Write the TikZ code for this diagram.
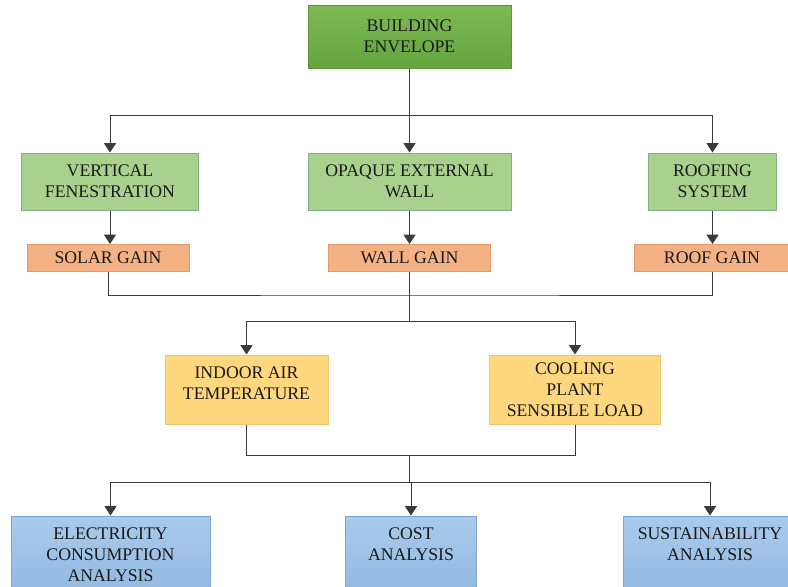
\documentclass[tikz,border=0pt]{standalone}
\usepackage{fontspec}
\setmainfont{Liberation Serif}
\usetikzlibrary{arrows.meta}

\definecolor{envtop}{HTML}{7DBA55}
\definecolor{envbot}{HTML}{66A43F}
\definecolor{envline}{HTML}{5E9539}
\definecolor{partfill}{HTML}{A9D18E}
\definecolor{partline}{HTML}{84AE87}
\definecolor{gainfill}{HTML}{F4B183}
\definecolor{gainline}{HTML}{E3976C}
\definecolor{effectfill}{HTML}{FFD77E}
\definecolor{effectline}{HTML}{F2C46A}
\definecolor{studytop}{HTML}{A9CAEB}
\definecolor{studybot}{HTML}{93B9E2}
\definecolor{studyline}{HTML}{7FA6D2}
\definecolor{wire}{HTML}{3A3A3A}

\begin{document}
\begin{tikzpicture}[x=0.75pt,y=-0.75pt,
        >={Triangle[width=9pt,length=7pt]},
        color=wire,line width=0.75pt,
        block/.style={align=center,inner sep=1pt,text=black!90,
            font=\fontsize{13.3}{15.75}\selectfont},
        envbox/.style={block,draw=envline,top color=envtop,bottom color=envbot},
        partbox/.style={block,draw=partline,fill=partfill,minimum height=42.75pt},
        gainbox/.style={block,draw=gainline,fill=gainfill,minimum height=20.25pt},
        effectbox/.style={block,draw=effectline,fill=effectfill,minimum height=51.75pt},
        studybox/.style={block,draw=studyline,top color=studytop,bottom color=studybot,minimum height=58.5pt}]
        \useasboundingbox (0,0) rectangle (788,586);
        \clip (0,0) rectangle (788,586);

        % top level
        \node[envbox,minimum width=152.25pt,minimum height=47.25pt] (env) at (409.5,36.5) {BUILDING\\ENVELOPE};

        % envelope parts
        \node[partbox,minimum width=132.75pt] (vf) at (110,181.5) {VERTICAL\\FENESTRATION};
        \node[partbox,minimum width=152.25pt] (wall) at (409.5,181.5) {OPAQUE EXTERNAL\\WALL};
        \node[partbox,minimum width=96pt] (roof) at (712.5,181.5) {ROOFING\\SYSTEM};

        % heat gains
        \node[gainbox,minimum width=121.5pt] (solar) at (108,258) {SOLAR GAIN};
        \node[gainbox,minimum width=121.5pt] (wgain) at (409.5,258) {WALL GAIN};
        \node[gainbox,minimum width=117pt] (rgain) at (712,258) {ROOF GAIN};

        % effects
        \node[effectbox,minimum width=122.25pt] (indoor) at (246.5,389.5) {INDOOR AIR\\TEMPERATURE\\[-6pt]~};
        \node[effectbox,minimum width=128.25pt] (cool) at (575,389.5) {COOLING\\PLANT\\SENSIBLE LOAD};

        % analyses
        \node[studybox,minimum width=149.25pt] (elec) at (110.5,555) {ELECTRICITY\\CONSUMPTION\\ANALYSIS};
        \node[studybox,minimum width=98.25pt] (cost) at (411,555) {COST\\ANALYSIS\\~};
        \node[studybox,minimum width=130.5pt] (sust) at (710,555) {SUSTAINABILITY\\ANALYSIS\\~};

        \coordinate (j1) at (409.5,115);
        \coordinate (j2) at (409.5,295);
        \coordinate (j3) at (409.5,321);
        \coordinate (j4) at (409.5,455);
        \coordinate (j5) at (409.5,482);

        \draw (env) -- (j1);
        \foreach \n in {vf,wall,roof}
            \draw[->] (j1) -| (\n.north);
        \foreach \n/\g in {vf/solar,wall/wgain,roof/rgain}
            \draw[->] (\n.south) -- (\n.south |- \g.north);

        \draw (solar.south) |- (j2) -| (rgain.south);
        \draw (wgain.south) -- (j2) -- (j3);
        \foreach \n in {indoor,cool}
            \draw[->] (j3) -| (\n.north);

        \draw (indoor.south) |- (j4) -| (cool.south);
        \draw (j4) -- (j5);
        \foreach \n in {elec,cost,sust}
            \draw[->] (j5) -| (\n.north);
    \end{tikzpicture}
\end{document}
